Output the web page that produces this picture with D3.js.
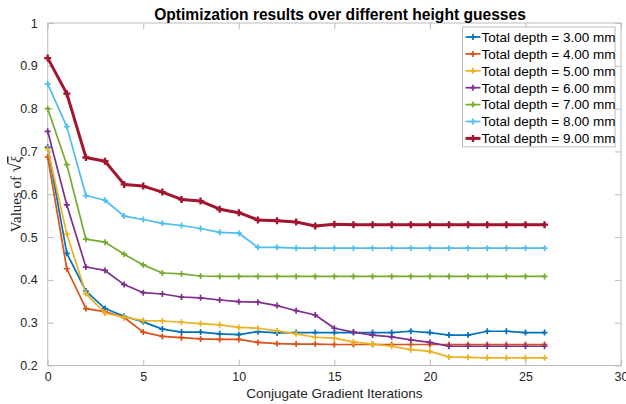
<!DOCTYPE html>
<html>
<head>
<meta charset="utf-8">
<script src="https://cdn.jsdelivr.net/npm/d3@7"></script>
<style>
  body { margin: 0; background: #fff; }
  text { font-family: "Liberation Sans", Arial, sans-serif; }
</style>
</head>
<body>
<svg id="chart" width="626" height="404"></svg>
<script>
// iterations 0..26
const iters = [0,1,2,3,4,5,6,7,8,9,10,11,12,13,14,15,16,17,18,19,20,21,22,23,24,25,26];

const depth3 = [0.710,0.462,0.374,0.333,0.315,0.302,0.285,0.278,0.278,0.274,0.272,0.279,0.276,0.277,0.277,0.277,0.277,0.277,0.277,0.280,0.277,0.271,0.271,0.280,0.280,0.277,0.277];
const depth4 = [0.687,0.426,0.333,0.326,0.312,0.278,0.268,0.265,0.262,0.261,0.261,0.254,0.251,0.250,0.250,0.249,0.249,0.249,0.249,0.249,0.249,0.249,0.249,0.249,0.249,0.249,0.249];
const depth5 = [0.706,0.507,0.368,0.322,0.313,0.305,0.304,0.301,0.298,0.295,0.289,0.287,0.281,0.274,0.266,0.264,0.255,0.250,0.245,0.237,0.233,0.220,0.219,0.218,0.218,0.218,0.218];
const depth6 = [0.747,0.575,0.430,0.422,0.389,0.370,0.367,0.360,0.358,0.353,0.349,0.348,0.340,0.328,0.318,0.287,0.278,0.271,0.267,0.260,0.254,0.245,0.245,0.245,0.245,0.245,0.245];
const depth7 = [0.800,0.669,0.495,0.488,0.460,0.435,0.416,0.414,0.409,0.408,0.408,0.408,0.408,0.408,0.408,0.408,0.408,0.408,0.408,0.408,0.408,0.408,0.408,0.408,0.408,0.408,0.408];
const depth8 = [0.858,0.758,0.597,0.586,0.549,0.541,0.532,0.527,0.520,0.511,0.509,0.476,0.476,0.474,0.474,0.474,0.474,0.474,0.474,0.474,0.474,0.474,0.474,0.474,0.474,0.474,0.474];
const depth9 = [0.918,0.835,0.686,0.677,0.623,0.619,0.605,0.588,0.584,0.565,0.557,0.540,0.538,0.535,0.526,0.530,0.529,0.529,0.529,0.529,0.529,0.529,0.529,0.529,0.529,0.529,0.529];

const labels = ["Total depth = 3.00 mm","Total depth = 4.00 mm","Total depth = 5.00 mm","Total depth = 6.00 mm","Total depth = 7.00 mm","Total depth = 8.00 mm","Total depth = 9.00 mm"];
const colors = ["#0072BD","#D95319","#EDB120","#7E2F8E","#77AC30","#4DBEEE","#A2142F"];
const widths = [1.7,1.7,1.7,1.7,1.7,1.7,3];

const xTicks = [0,5,10,15,20,25,30];
const yTicks = [0.2,0.3,0.4,0.5,0.6,0.7,0.8,0.9,1];

const series = [depth3, depth4, depth5, depth6, depth7, depth8, depth9];

const svg = d3.select("#chart");
const m = { left: 47.7, right: 621, top: 23, bottom: 365.5 };

const x = d3.scaleLinear().domain([0, 30]).range([m.left, m.right]);
const y = d3.scaleLinear().domain([0.2, 1]).range([m.bottom, m.top]);

const axisColor = "#bcbcbc";
const labelColor = "#262626";

// box
svg.append("rect")
  .attr("x", m.left).attr("y", m.top)
  .attr("width", m.right - m.left).attr("height", m.bottom - m.top)
  .attr("fill", "none").attr("stroke", axisColor).attr("stroke-width", 1);

// axes with inward ticks
const tk = 6;
const styleAxis = g => {
  g.select(".domain").remove();
  g.selectAll(".tick line").attr("stroke", axisColor);
  g.selectAll(".tick text").attr("fill", labelColor).style("font-size", "12.5px")
    .style("font-family", "Liberation Sans, Arial, sans-serif");
};
svg.append("g").attr("transform", `translate(0,${m.bottom})`)
  .call(d3.axisBottom(x).tickValues(xTicks).tickFormat(d3.format("d")).tickSizeInner(-tk).tickPadding(tk + 1))
  .call(styleAxis);
svg.append("g").attr("transform", `translate(0,${m.top})`)
  .call(d3.axisTop(x).tickValues(xTicks).tickFormat("").tickSizeInner(-tk))
  .call(styleAxis);
svg.append("g").attr("transform", `translate(${m.left},0)`)
  .call(d3.axisLeft(y).tickValues(yTicks).tickFormat(d => d === 1 ? "1" : d3.format(".1f")(d)).tickSizeInner(-tk).tickPadding(tk + 4))
  .call(styleAxis);
svg.append("g").attr("transform", `translate(${m.right},0)`)
  .call(d3.axisRight(y).tickValues(yTicks).tickFormat("").tickSizeInner(-tk))
  .call(styleAxis);

// lines + markers
const line = d3.line().x((d, i) => x(iters[i])).y(d => y(d));
const plus = s => `M${-s},0H${s}M0,${-s}V${s}`;

series.forEach((vals, k) => {
  const g = svg.append("g");
  g.append("path").datum(vals)
    .attr("d", line)
    .attr("fill", "none")
    .attr("stroke", colors[k])
    .attr("stroke-width", widths[k])
    .attr("stroke-linejoin", "round");
  g.selectAll("path.mk").data(vals).join("path")
    .attr("class", "mk")
    .attr("transform", (d, i) => `translate(${x(iters[i])},${y(d)})`)
    .attr("d", plus(k === 6 ? 3.5 : 3))
    .attr("stroke", colors[k])
    .attr("stroke-width", k === 6 ? 2.4 : 1.7);
});

// title
svg.append("text")
  .attr("x", 340).attr("y", 19.5)
  .attr("text-anchor", "middle")
  .style("font-size", "15.6px").style("font-weight", "bold")
  .attr("fill", "#000")
  .text("Optimization results over different height guesses");

// x label
svg.append("text")
  .attr("x", (m.left + m.right) / 2).attr("y", 398)
  .attr("text-anchor", "middle")
  .style("font-size", "13.5px")
  .attr("fill", labelColor)
  .text("Conjugate Gradient Iterations");

// y label (serif, like LaTeX)
const yl = svg.append("text")
  .attr("transform", `translate(21,${(m.top + m.bottom) / 2}) rotate(-90)`)
  .attr("text-anchor", "middle")
  .style("font-family", "Liberation Serif, DejaVu Serif, serif")
  .style("font-size", "15px")
  .attr("fill", labelColor);
yl.append("tspan").text("Values of ");
yl.append("tspan").style("font-size", "17px").text("√");
yl.append("tspan").style("text-decoration", "overline").style("font-style", "italic").text("ξ");

// legend
const lg = svg.append("g").attr("transform", "translate(462.5,27)");
const rowH = 16.9;
lg.append("rect")
  .attr("width", 152.5).attr("height", rowH * labels.length + 1.5)
  .attr("fill", "#fff").attr("stroke", axisColor);
labels.forEach((t, k) => {
  const cy = 10 + rowH * k;
  lg.append("line").attr("x1", 3).attr("x2", 18).attr("y1", cy).attr("y2", cy)
    .attr("stroke", colors[k]).attr("stroke-width", widths[k]);
  lg.append("path").attr("transform", `translate(10.5,${cy})`).attr("d", plus(k === 6 ? 3.5 : 3))
    .attr("stroke", colors[k]).attr("stroke-width", k === 6 ? 2.4 : 1.7);
  lg.append("text").attr("x", 19).attr("y", cy).attr("dy", "0.36em")
    .style("font-size", "13.5px").attr("fill", "#000").text(t);
});
</script>
</body>
</html>
